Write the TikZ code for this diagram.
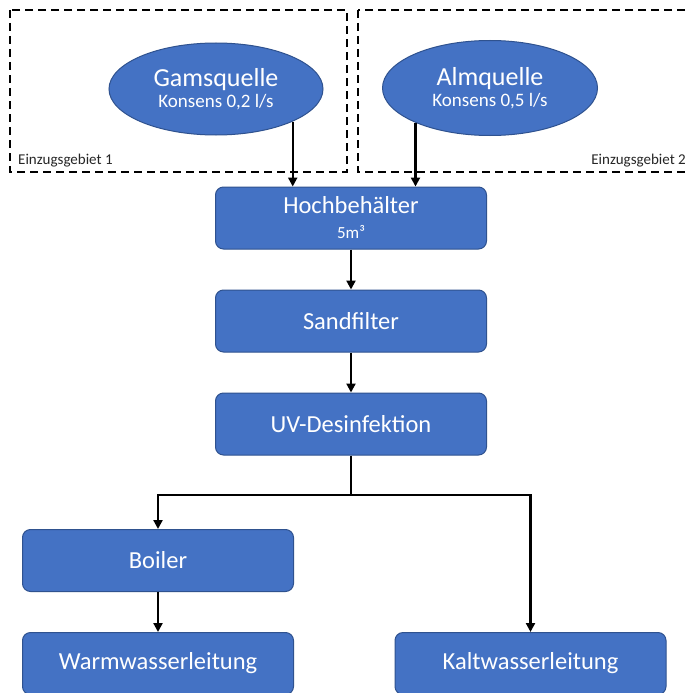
\documentclass[tikz,border=0pt]{standalone}
\usepackage{fontspec}
\setmainfont{Carlito}
\usetikzlibrary{shapes.geometric,arrows.meta}
\definecolor{stepblue}{RGB}{68,114,196}
\definecolor{stepedge}{RGB}{47,82,143}
\tikzset{
	quelle/.style={ellipse, draw=stepedge, line width=1pt, fill=stepblue, text=white, inner sep=0pt, align=center},
	stufe/.style={rectangle, rounded corners=8pt, draw=stepedge, line width=1pt, fill=stepblue, text=white, inner sep=0pt, minimum width=271pt, minimum height=62pt, align=center, font=\fontsize{24.5}{28}\selectfont},
	gebiet/.style={draw=black, line width=2pt, dash pattern=on 8pt off 5pt},
	flow/.style={draw=black, line width=2.2pt, -{Triangle[length=9pt,width=9pt]}},
}
\begin{document}
\begin{tikzpicture}[x=1pt,y=-1pt]
		%%%%% START %%%%%
		\useasboundingbox[fill=white] (0,0) rectangle (689,693);
		
		% Einzugsgebiete
		\draw[gebiet] (10,10) rectangle (347,172);
		\draw[gebiet] (358,10) rectangle (691,172);
		\node[anchor=south west, inner sep=0pt, text=black!85, font=\fontsize{15}{17}\selectfont] (lbl1) at (18,167) {Einzugsgebiet 1};
		\node[anchor=south east, inner sep=0pt, text=black!85, font=\fontsize{15}{17}\selectfont] (lbl2) at (686,167) {Einzugsgebiet 2};
		
		% Quellen
		\node[quelle, minimum width=214pt, minimum height=92pt] (gams) at (216,89) {{\fontsize{26}{30}\selectfont Gamsquelle}\\[3pt]{\fontsize{19}{22}\selectfont Konsens 0,2 l/s}};
		\node[quelle, minimum width=215pt, minimum height=95pt] (alm) at (490,88) {{\fontsize{26}{30}\selectfont Almquelle}\\[3pt]{\fontsize{19}{22}\selectfont Konsens 0,5 l/s}};
		
		% Stufen
		\node[stufe] (hoch) at (351,218) {Hochbeh\"alter\\[-3pt]{\fontsize{17}{18}\selectfont 5m³}};
		\node[stufe] (sand) at (351,321) {Sandfilter};
		\node[stufe] (uv) at (351,424) {UV-Desinfektion};
		\node[stufe] (boiler) at (158,560.5) {Boiler};
		\node[stufe] (warm) at (158,663.5) {Warmwasserleitung};
		\node[stufe] (kalt) at (530.5,663.5) {Kaltwasserleitung};
		
		\coordinate (split) at (351,495);
		
		% Verbindungen
		\draw[flow] (gams.-23) -- (gams.-23 |- hoch.north);
		\draw[flow] (alm.-155) -- (alm.-155 |- hoch.north);
		\draw[flow] (hoch) -- (sand);
		\draw[flow] (sand) -- (uv);
		\draw[line width=2.2pt] (uv.south) -- (split);
		\draw[flow] (split) -| (boiler.north);
		\draw[flow] (split) -| (kalt.north);
		\draw[flow] (boiler) -- (warm);
		
		%%%%% END %%%%%
\end{tikzpicture}
\end{document}
